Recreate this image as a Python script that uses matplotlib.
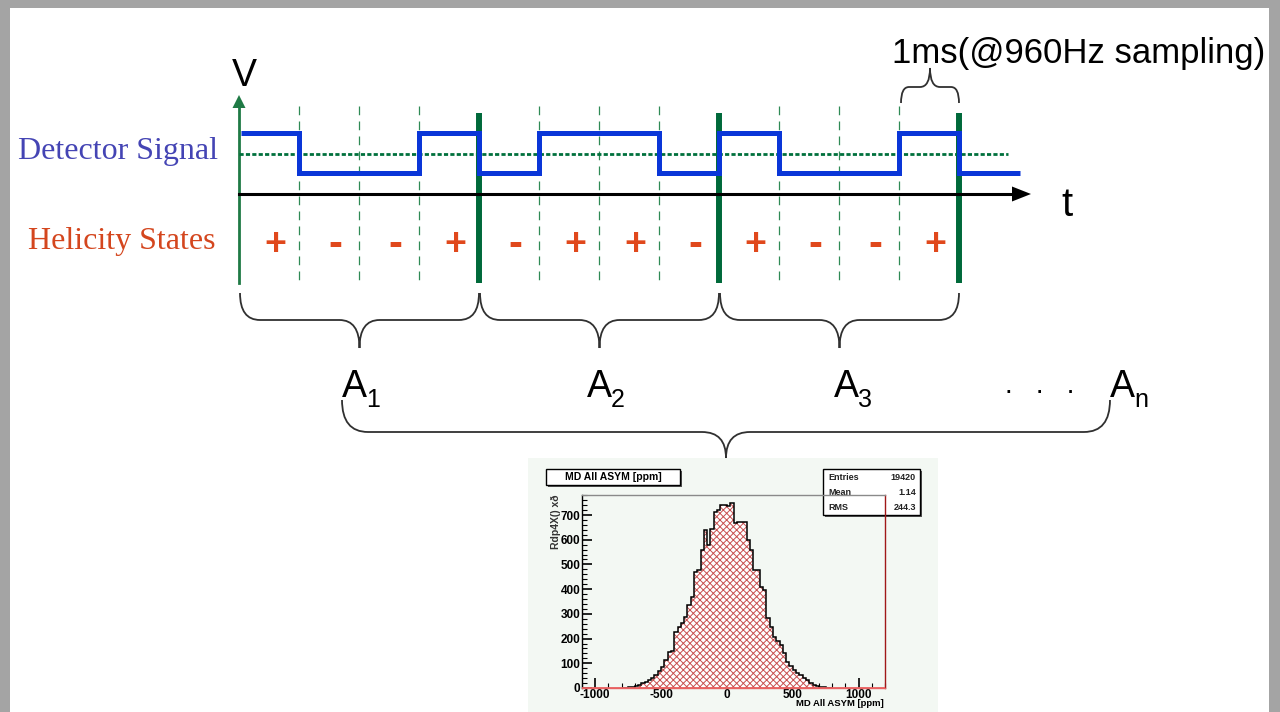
import numpy as np
import matplotlib
matplotlib.use('Agg')
import matplotlib.pyplot as plt
from matplotlib.path import Path
from matplotlib.patches import PathPatch, Rectangle, Polygon

plt.rcParams['font.family'] = ['Liberation Sans', 'DejaVu Sans']
plt.rcParams['hatch.linewidth'] = 0.7
plt.rcParams['axes.unicode_minus'] = False

# ---------------- data ----------------
helicity = ['+', '-', '-', '+', '-', '+', '+', '-', '+', '-', '-', '+']
group_names = ['A', 'A', 'A', 'A']
group_subs = ['1', '2', '3', 'n']
hist_lo = -800
hist_width = 25
hist_counts = [0, 2, 3, 5, 8, 14, 20, 25, 32, 42, 53, 70, 85, 113, 146, 150,
               227, 247, 262, 287, 336, 368, 470, 478, 558, 640, 579, 645, 712, 722, 742, 740,
               735, 748, 667, 672, 670, 673, 600, 558, 478, 478, 409, 397, 283, 247, 206, 190,
               174, 142, 105, 90, 73, 62, 53, 40, 32, 22, 14, 8, 5, 3, 2, 0]
y_ticks = [0, 100, 200, 300, 400, 500, 600, 700]
x_ticks = [-1000, -500, 0, 500, 1000]
stats_names = ['Entries', 'Mean', 'RMS']
stats_values = ['19420', '1.14', '244.3']
hist_title = 'MD All ASYM [ppm]'

# ---------------- figure ----------------
fig = plt.figure(figsize=(12.8, 7.12), dpi=100)
fig.patch.set_facecolor('#a4a4a4')
ax = fig.add_axes([0, 0, 1, 1])
ax.set_xlim(0, 1280)
ax.set_ylim(712, 0)
ax.axis('off')
ax.add_patch(Rectangle((10, 8), 1259, 710, facecolor='white', edgecolor='none', zorder=0))

X0 = 239          # origin of V axis
BW = 60           # sample width (pixels)
HIGH, LOW = 133, 173
Y_T = 194
n = len(helicity)
edges = [X0 + i * BW for i in range(n + 1)]

# dashed/solid separators
for i, xe in enumerate(edges[1:], start=1):
    if i % 4 == 0:
        ax.plot([xe, xe], [113, 283], color='#00693a', lw=4.3, solid_capstyle='butt', zorder=2)
    else:
        ax.plot([xe, xe], [106, 283], color='#2f8a55', lw=0.9, ls=(0, (7, 5)), zorder=2)

# V axis
ax.plot([X0, X0], [283, 106], color='#1f7a45', lw=2.0, zorder=3)
ax.add_patch(Polygon([[X0 - 6.5, 108], [X0 + 6.5, 108], [X0, 95]], closed=True,
                     facecolor='#1f7a45', edgecolor='none', zorder=3))
ax.text(244, 76, 'V', fontsize=27, ha='center', va='center', color='black')

# t axis
ax.plot([X0, 1014], [Y_T, Y_T], color='black', lw=2.2, zorder=3)
ax.add_patch(Polygon([[1012, Y_T - 7.5], [1012, Y_T + 7.5], [1031, Y_T]], closed=True,
                     facecolor='black', edgecolor='none', zorder=3))
ax.text(1067, 205, 't', fontsize=29, ha='center', va='center', color='black')

# dotted mean line
ax.plot([X0, 1008], [154, 154], color='#00703c', lw=2.0, ls=(0, (1.5, 0.8)), zorder=3)

# detector signal
levels = [HIGH if s == '+' else LOW for s in helicity] + [LOW]
sig_edges = edges + [1020]
ax.stairs(levels, [X0 + 2] + sig_edges[1:], baseline=None, color='#0a36d8', lw=3.6, zorder=4)

# helicity signs
for i, s in enumerate(helicity):
    ax.text(edges[i] + BW / 2 + 6, 245, s, fontsize=27 if s == '+' else 30, fontweight='bold',
            color='#e0481c', ha='center', va='center', zorder=4)

# labels
ax.text(118, 152, 'Detector Signal', family='Liberation Serif', fontsize=23,
        color='#4444b4', ha='center', va='center')
ax.text(122, 241, 'Helicity States', family='Liberation Serif', fontsize=23,
        color='#d4461e', ha='center', va='center')
ax.text(1079, 53, '1ms(@960Hz sampling)', fontsize=25, ha='center', va='center', color='black')


def brace(x0, x1, y_end, y_mid, y_tip, r, rc):
    xc = (x0 + x1) / 2
    verts = [(x0, y_end), (x0, y_mid), (x0 + r, y_mid),
             (xc - rc, y_mid), (xc, y_mid), (xc, y_tip),
             (xc, y_mid), (xc + rc, y_mid),
             (x1 - r, y_mid), (x1, y_mid), (x1, y_end)]
    codes = [Path.MOVETO, Path.CURVE3, Path.CURVE3, Path.LINETO, Path.CURVE3, Path.CURVE3,
             Path.CURVE3, Path.CURVE3, Path.LINETO, Path.CURVE3, Path.CURVE3]
    ax.add_patch(PathPatch(Path(verts, codes), facecolor='none', edgecolor='#303030', lw=1.3, zorder=3))


for g in range(3):
    brace(edges[4 * g] + 1, edges[4 * g + 4], 293, 320, 348, 20, 20)
brace(342, 1110, 400, 432, 458, 26, 24)
brace(901, 959, 103, 87, 68, 8, 10)

# A labels
a_x = [354, 599, 846, 1122]
for name, sub, xa in zip(group_names, group_subs, a_x):
    ax.text(xa, 387, name, fontsize=27, ha='center', va='center', color='black')
    ax.text(xa + 12, 400, sub, fontsize=18, ha='left', va='center', color='black')
ax.text(1040, 386, '.   .   .', fontsize=20, ha='center', va='center', color='black')

# ---------------- histogram inset ----------------
ax.add_patch(Rectangle((528, 458), 410, 260, facecolor='#f3f8f3', edgecolor='none', zorder=1))
axh = fig.add_axes([582 / 1280, 1 - 688 / 712, 303 / 1280, 193 / 712])
axh.set_facecolor('none')
axh.set_xlim(-1100, 1200)
axh.set_ylim(0, 781)
hedges = [hist_lo + i * hist_width for i in range(len(hist_counts) + 1)]
axh.stairs(hist_counts, hedges, fill=True, facecolor='white', edgecolor='#c85050',
           hatch='xxxxx', lw=0, zorder=2)
axh.stairs(hist_counts, hedges, baseline=None, color='black', lw=1.1, zorder=3)
axh.axhline(0, color='#e86060', lw=2.0, zorder=4)
for side in ['top', 'right', 'bottom', 'left']:
    axh.spines[side].set_linewidth(1.0)
axh.spines['top'].set_color('#8a8a8a')
axh.spines['right'].set_color('#a01818')
axh.spines['bottom'].set_color('#e86060')
axh.spines['left'].set_color('black')
axh.set_yticks(y_ticks)
axh.set_yticks(np.arange(0, 781, 20), minor=True)
axh.set_xticks(x_ticks)
axh.set_xticks(np.arange(-1100, 1201, 100), minor=True)
axh.tick_params(axis='both', which='major', direction='in', length=7, width=1.2,
                labelsize=8.5, pad=1.0)
axh.tick_params(axis='both', which='minor', direction='in', length=3.5, width=0.8)
axh.tick_params(right=False, top=False)
for lab in axh.get_xticklabels() + axh.get_yticklabels():
    lab.set_fontweight('bold')

# title box
ax.add_patch(Rectangle((548, 471), 134, 16, facecolor='#555555', edgecolor='none', zorder=5))
ax.add_patch(Rectangle((546, 469), 134, 16, facecolor='white', edgecolor='black', lw=1, zorder=6))
ax.text(613, 477, hist_title, fontsize=7.5, fontweight='bold', ha='center', va='center', zorder=7)
# stats box
ax.add_patch(Rectangle((825, 471), 97, 46, facecolor='#555555', edgecolor='none', zorder=5))
ax.add_patch(Rectangle((823, 469), 97, 46, facecolor='white', edgecolor='black', lw=1, zorder=6))
for k, (nm, vl) in enumerate(zip(stats_names, stats_values)):
    yy = 477 + k * 15.5
    ax.text(828, yy, nm, fontsize=6.5, fontweight='bold', ha='left', va='center', zorder=7, color='#222222')
    ax.text(916, yy, vl, fontsize=6.5, fontweight='bold', ha='right', va='center', zorder=7, color='#222222')
ax.text(556, 522, 'Rdp4X() xð', fontsize=7.5, fontweight='bold', rotation=90, ha='center', va='center',
        color='#333333', zorder=7)
ax.text(884, 704, hist_title, fontsize=6.8, fontweight='bold', ha='right', va='center', zorder=7)

fig.savefig('out.png', dpi=100, facecolor=fig.get_facecolor())
